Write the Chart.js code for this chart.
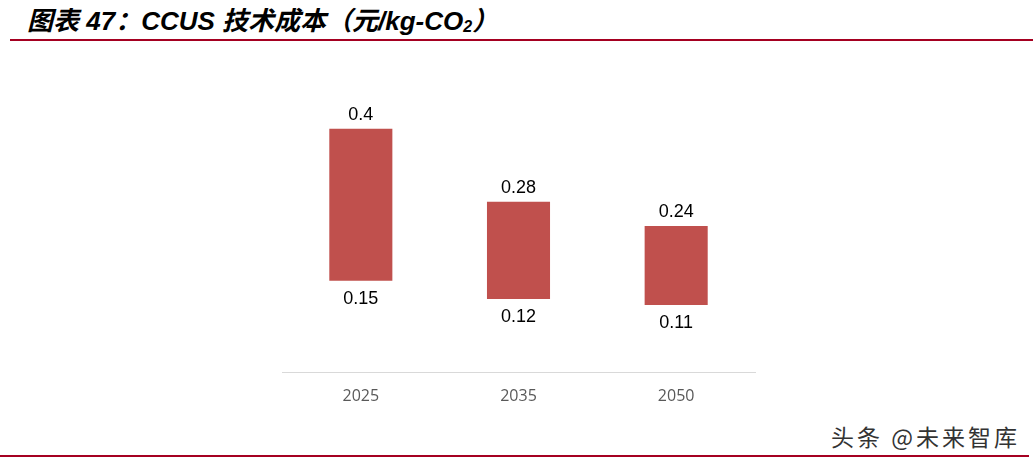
<!DOCTYPE html>
<html>
<head>
<meta charset="utf-8">
<script src="https://cdn.jsdelivr.net/npm/chart.js@4"></script>
<style>
  html, body { margin: 0; padding: 0; background: #fff; }
  body { width: 1033px; height: 464px; position: relative; overflow: hidden; }
  #title {
    position: absolute; left: 27px; top: 0px; line-height: 32px;
    font: italic bold 26px "Liberation Sans", "Noto Sans CJK SC", sans-serif;
    color: #000; white-space: nowrap;
  }
  #title sub { font-size: 16px; vertical-align: -2px; line-height: 0; }
  .rule { position: absolute; height: 2px; background: #a50021; }
  #wm {
    position: absolute; left: 831px; top: 419px; line-height: 30px;
    font: 23px "Noto Sans CJK SC", sans-serif; color: #333; letter-spacing: 3px;
    white-space: nowrap;
  }
  #c { position: absolute; left: 0; top: 0; }
</style>
</head>
<body>
<div id="title">图表 47：CCUS 技术成本（元/kg-CO<sub>2</sub>）</div>
<div class="rule" style="left:10px; right:0; top:39px;"></div>
<div class="rule" style="left:0; width:1029px; top:455px;"></div>
<div id="wm">头条 @未来智库</div>
<canvas id="c" width="1033" height="464"></canvas>
<script>
// 数据
const years = ['2025', '2035', '2050'];
const lowCost = [0.15, 0.12, 0.11];
const highCost = [0.4, 0.28, 0.24];

// 柱子上下标数值
const rangeLabels = {
  id: 'rangeLabels',
  afterDatasetsDraw(chart) {
    const ctx = chart.ctx;
    const meta = chart.getDatasetMeta(0);
    ctx.save();
    ctx.font = '18px "Liberation Sans", Arial, sans-serif';
    ctx.fillStyle = '#000';
    ctx.textAlign = 'center';
    ctx.textBaseline = 'middle';
    meta.data.forEach((bar, i) => {
      const top = chart.scales.y.getPixelForValue(highCost[i]);
      const bottom = chart.scales.y.getPixelForValue(lowCost[i]);
      ctx.fillText(String(highCost[i]), bar.x, top - 14);
      ctx.fillText(String(lowCost[i]), bar.x, bottom + 18);
    });
    ctx.restore();
  }
};

new Chart(document.getElementById('c'), {
  type: 'bar',
  data: {
    labels: years,
    datasets: [{
      data: years.map((y, i) => [lowCost[i], highCost[i]]),
      backgroundColor: '#c0504d',
      barPercentage: 0.4,
      categoryPercentage: 1
    }]
  },
  options: {
    responsive: false,
    animation: false,
    layout: { padding: { left: 282, right: 278, top: 68, bottom: 44 } },
    plugins: { legend: { display: false }, tooltip: { enabled: false } },
    scales: {
      x: {
        grid: { display: false, drawTicks: false },
        border: { color: '#d9d9d9', width: 1 },
        ticks: {
          color: '#595959',
          padding: 15,
          font: { family: '"Open Sans", sans-serif', size: 16 }
        },
        afterFit: s => { s.height = 48; }
      },
      y: {
        display: false,
        min: 0,
        max: 0.5
      }
    }
  },
  plugins: [rangeLabels]
});
</script>
</body>
</html>
